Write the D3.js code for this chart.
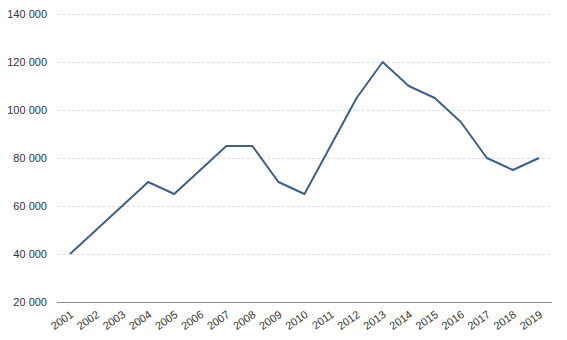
<!DOCTYPE html>
<html><head><meta charset="utf-8">
<script src="https://cdn.jsdelivr.net/npm/d3@7"></script>
<style>body{margin:0;background:#fff}svg{display:block}</style>
</head><body><svg id="c" width="567" height="340"></svg>
<script>
const years = ["2001","2002","2003","2004","2005","2006","2007","2008","2009","2010","2011","2012","2013","2014","2015","2016","2017","2018","2019"];
const values = [40000,50000,60000,70000,65000,75000,85000,85000,70000,65000,85000,105000,120000,110000,105000,95000,80000,75000,80000];
const yTicks = [20000,40000,60000,80000,100000,120000,140000];

const svg = d3.select("#c");
const m = {l:57, r:552, t:14, b:302};
const x = d3.scalePoint().domain(years).range([m.l, m.r]).padding(0.5);
const y = d3.scaleLinear().domain([20000,140000]).range([m.b, m.t]);
const fmt = v => d3.format(",")(v).replace(/,/g, " ");

svg.append("g").selectAll("line").data(yTicks.slice(1)).join("line")
  .attr("x1", m.l).attr("x2", m.r).attr("y1", d=>y(d)+0.5).attr("y2", d=>y(d)+0.5)
  .attr("stroke", "#d9e0ea").attr("stroke-dasharray", "3,2").attr("stroke-width", 1);

svg.append("line").attr("x1", m.l).attr("x2", m.r).attr("y1", y(20000)+0.5).attr("y2", y(20000)+0.5)
  .attr("stroke", "#8c8c8c").attr("stroke-width", 1);

svg.append("g").selectAll("text").data(yTicks).join("text")
  .attr("x", 47).attr("y", d=>y(d)).attr("dy", "0.35em").attr("text-anchor", "end")
  .attr("font-family", "Liberation Sans, Arial, sans-serif").attr("font-size", 11).attr("fill", "#333")
  .text(fmt);

svg.append("g").selectAll("text").data(years).join("text")
  .attr("transform", d=>`translate(${x(d)+2},${m.b+11}) rotate(-35)`)
  .attr("text-anchor", "end").attr("dy", "0.35em")
  .attr("font-family", "Liberation Sans, Arial, sans-serif").attr("font-size", 11).attr("fill", "#333")
  .text(d=>d);

svg.append("path").datum(values.map((v,i)=>[years[i], v]))
  .attr("fill", "none").attr("stroke", "#3f6089").attr("stroke-width", 2).attr("stroke-linejoin", "round")
  .attr("d", d3.line().x(d=>x(d[0])).y(d=>y(d[1])));
</script></body></html>
